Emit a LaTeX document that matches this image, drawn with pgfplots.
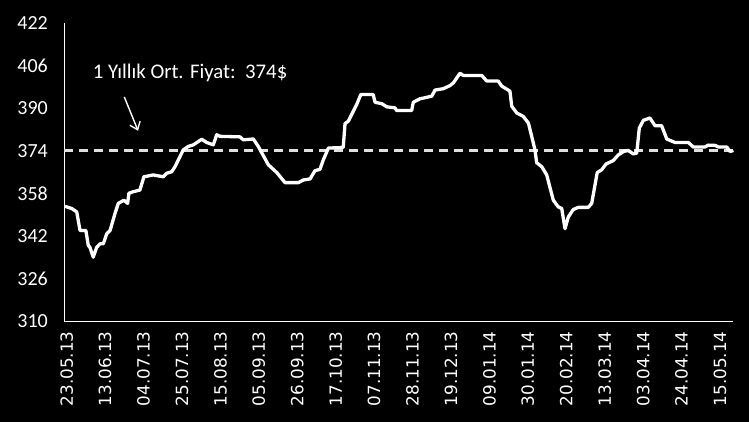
\documentclass[border=0pt]{standalone}
\usepackage{fontspec}
\setmainfont{Carlito}
\newfontfamily\dejavu{DejaVu Sans}
\usepackage{pgfplots}
\pgfplotsset{compat=1.18}
\usetikzlibrary{arrows.meta}

% day index (0 = 23.05.13), price
\pgfplotstableread{
d v
-0.9 353.1
2.7 352.3
5.5 351.0
7.3 344.0
10.5 344.0
11.8 338.4
12.7 337.7
14.5 334.0
16.4 337.7
18.2 339.0
20.0 339.0
21.9 342.8
23.7 344.0
26.4 350.4
28.2 354.2
31.3 355.4
33.3 354.2
34.0 358.0
36.4 358.6
40.0 359.2
42.2 364.2
47.3 364.9
52.8 364.2
54.6 365.5
57.4 366.1
59.2 368.0
61.0 370.5
63.7 374.3
66.4 375.6
69.2 376.2
73.8 378.3
76.5 377.1
80.1 376.2
82.0 380.0
83.8 379.4
94.7 379.2
96.5 378.1
102.0 378.4
104.7 375.6
110.2 368.7
114.8 365.8
119.3 362.0
126.6 362.0
129.3 363.0
133.0 363.4
135.7 366.5
138.4 367.0
140.2 370.5
143.0 375.0
151.1 375.2
152.1 384.2
153.9 385.1
158.5 391.4
160.7 395.1
167.5 395.1
168.5 392.2
172.1 391.7
174.9 390.5
179.4 390.1
180.3 389.1
188.5 389.1
189.4 392.2
193.0 393.5
195.7 393.9
199.5 394.5
201.3 396.8
205.8 397.3
209.5 398.5
211.3 399.5
214.9 403.1
216.7 402.3
226.8 402.3
229.5 400.2
235.8 400.2
237.7 398.3
242.2 396.4
243.2 390.7
245.9 388.2
249.5 386.9
252.3 384.4
254.1 379.4
255.9 374.3
256.8 369.5
259.6 368.0
262.3 364.9
265.9 355.4
268.6 352.9
270.5 352.3
272.3 344.7
274.1 349.1
276.8 351.9
279.6 352.7
285.0 352.7
286.9 354.2
289.9 365.8
292.3 366.8
294.7 369.0
298.7 370.3
301.4 372.4
304.2 373.7
306.9 374.1
309.6 372.8
311.5 373.1
312.9 382.5
315.1 385.4
318.7 386.3
321.5 383.4
325.1 383.4
327.9 378.4
332.4 377.1
339.7 377.1
342.4 375.4
348.8 375.4
350.6 376.1
354.3 376.0
356.1 375.4
360.7 375.4
362.5 373.7
364.3 374.1
}\price

\begin{document}
\begin{tikzpicture}
\fill[black] (-64.3bp,-101bp) rectangle (684.7bp,321bp);
\begin{axis}[
    scale only axis,
    width=668.7bp, height=298bp,
    xmin=-1.3, xmax=364.1,
    ymin=310, ymax=422,
    clip=false,
    axis x line*=bottom,
    axis y line*=left,
    axis line style={white, line width=0.9bp},
    major tick length=0pt,
    xtick={0,21,...,357},
    xticklabels={23.05.13,13.06.13,04.07.13,25.07.13,15.08.13,05.09.13,26.09.13,17.10.13,07.11.13,28.11.13,19.12.13,09.01.14,30.01.14,20.02.14,13.03.14,03.04.14,24.04.14,15.05.14},
    ytick={310,326,...,422},
    /pgf/number format/assume math mode=true,
    x tick label style={yshift=-7bp, rotate=90, anchor=east, text=white,
        font=\dejavu\fontsize{16.8bp}{18bp}\selectfont},
    y tick label style={text=white, xshift=-13bp,
        font=\fontsize{20bp}{21bp}\selectfont},
]
\addplot[white!88!black, line width=3bp, dash pattern=on 9bp off 6bp]
    coordinates {(-1.3,374) (364.3,374)};
\addplot[white, line width=3.3bp, line join=round, no marks] table[x=d, y=v] {\price};
\node[anchor=west, inner sep=0pt, text=white, font=\fontsize{20.8bp}{22bp}\selectfont]
    at (axis cs:14.2,403.2) {1 Yıllık Ort. Fiyat:\ \ 374\$};
\draw[white, line width=1.4bp, -{Straight Barb[length=7bp, width=11bp]}]
    (axis cs:31.5,394.2) -- (axis cs:39,381.5);
\end{axis}
\end{tikzpicture}
\end{document}
